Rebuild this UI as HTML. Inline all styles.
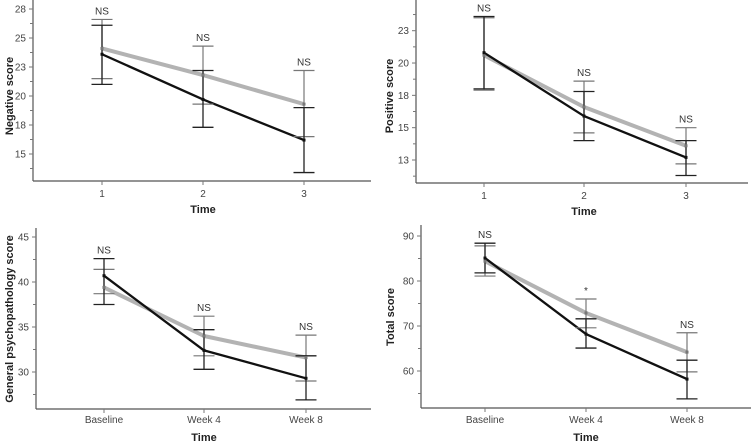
<!DOCTYPE html>
<html><head><meta charset="utf-8"><style>
html,body{margin:0;padding:0;background:#fff;}
svg{display:block;font-family:"Liberation Sans",Arial,sans-serif;}
</style></head><body>
<svg id="chart" width="755" height="445" viewBox="0 0 755 445" xmlns="http://www.w3.org/2000/svg"></svg>
<script>
// Panel A: Negative score
const negCategories = ["1","2","3"];
const negBlack = [23.6, 19.7, 16.2];
const negBlackHi = [26.1, 22.2, 19.0];
const negBlackLo = [21.0, 17.3, 13.4];
const negGray = [24.1, 21.8, 19.3];
const negGrayHi = [26.6, 24.3, 22.2];
const negGrayLo = [21.5, 19.3, 16.5];
const negSig = ["NS","NS","NS"];
const negTicks = [15, 17.5, 20, 22.5, 25, 27.5];
const negTickLabels = ["15","18","20","23","25","28"];
// Panel B: Positive score
const posCategories = ["1","2","3"];
const posBlack = [20.8, 15.9, 12.7];
const posBlackHi = [23.6, 17.8, 14.0];
const posBlackLo = [18.0, 14.0, 11.3];
const posGray = [20.6, 16.6, 13.6];
const posGrayHi = [23.5, 18.6, 15.0];
const posGrayLo = [17.9, 14.6, 12.2];
const posSig = ["NS","NS","NS"];
const posTicks = [12.5, 15, 17.5, 20, 22.5];
const posTickLabels = ["13","15","18","20","23"];
// Panel C: General psychopathology
const genCategories = ["Baseline","Week 4","Week 8"];
const genBlack = [40.7, 32.4, 29.3];
const genBlackHi = [42.6, 34.7, 31.8];
const genBlackLo = [37.5, 30.3, 26.9];
const genGray = [39.4, 34.0, 31.6];
const genGrayHi = [41.4, 36.2, 34.1];
const genGrayLo = [38.7, 31.8, 29.0];
const genSig = ["NS","NS","NS"];
const genTicks = [30, 35, 40, 45];
const genTickLabels = ["30","35","40","45"];
// Panel D: Total score
const totCategories = ["Baseline","Week 4","Week 8"];
const totBlack = [85.1, 68.2, 58.2];
const totBlackHi = [88.4, 71.6, 62.4];
const totBlackLo = [81.8, 65.1, 53.8];
const totGray = [84.4, 72.9, 64.2];
const totGrayHi = [87.8, 76.0, 68.5];
const totGrayLo = [81.1, 69.6, 59.8];
const totSig = ["NS","*","NS"];
const totTicks = [60, 70, 80, 90];
const totTickLabels = ["60","70","80","90"];

const svg = document.getElementById('chart');
const NS = 'http://www.w3.org/2000/svg';
function mk(tag, attrs, parent){
  const e = document.createElementNS(NS, tag);
  for (const k in attrs) e.setAttribute(k, attrs[k]);
  (parent||svg).appendChild(e);
  return e;
}

const panels = [
 {key:'negative', title:'Negative score', cats:negCategories, b:negBlack, bh:negBlackHi, bl:negBlackLo, g:negGray, gh:negGrayHi, gl:negGrayLo, sig:negSig, ticks:negTicks, tl:negTickLabels,
  axX:33, axTop:0, axBot:181, axRight:371, xs:[102,203,304], v0:15, y0:154, ppu:11.6, titleX:9, titleY:96, timeY:213, tickLabY:197},
 {key:'positive', title:'Positive score', cats:posCategories, b:posBlack, bh:posBlackHi, bl:posBlackLo, g:posGray, gh:posGrayHi, gl:posGrayLo, sig:posSig, ticks:posTicks, tl:posTickLabels,
  axX:416, axTop:0, axBot:183, axRight:748, xs:[484,584,686], v0:12.5, y0:160, ppu:12.93, titleX:389, titleY:96, timeY:215, tickLabY:199},
 {key:'general', title:'General psychopathology score', cats:genCategories, b:genBlack, bh:genBlackHi, bl:genBlackLo, g:genGray, gh:genGrayHi, gl:genGrayLo, sig:genSig, ticks:genTicks, tl:genTickLabels,
  axX:36, axTop:228, axBot:409, axRight:371, xs:[104,204,306], v0:30, y0:372, ppu:9, titleX:9, titleY:319, timeY:441, tickLabY:423},
 {key:'total', title:'Total score', cats:totCategories, b:totBlack, bh:totBlackHi, bl:totBlackLo, g:totGray, gh:totGrayHi, gl:totGrayLo, sig:totSig, ticks:totTicks, tl:totTickLabels,
  axX:421, axTop:225, axBot:408, axRight:751, xs:[485,586,687], v0:60, y0:371, ppu:4.5, titleX:390, titleY:317, timeY:441, tickLabY:423},
];

panels.forEach(p => {
  const grp = mk('g', {});
  
  
  const Y = v => p.y0 - (v - p.v0) * p.ppu;
  // axes
  const ya = mk('line', {x1:p.axX, y1:p.axTop, x2:p.axX, y2:p.axBot, stroke:'#555', 'stroke-width':1.2}, grp);
   
  const xa = mk('line', {x1:p.axX, y1:p.axBot, x2:p.axRight, y2:p.axBot, stroke:'#555', 'stroke-width':1.2}, grp);
   
  // y ticks incl minor
  const step = p.ticks[1] - p.ticks[0];
  for (let i = -1; i < p.ticks.length + 1; i++) {
    const v = p.ticks[0] + (i + 0.5) * step;
    const yy = Y(v);
    if (yy > p.axTop + 2 && yy < p.axBot - 2) mk('line', {x1:p.axX-3, y1:yy, x2:p.axX, y2:yy, stroke:'#777', 'stroke-width':1}, grp);
  }
  p.ticks.forEach((v, i) => {
    const yy = Y(v);
    mk('line', {x1:p.axX-4, y1:yy, x2:p.axX, y2:yy, stroke:'#777', 'stroke-width':1}, grp);
    const t = mk('text', {x:p.axX-7, y:yy+3.5, 'text-anchor':'end', 'font-size':10, fill:'#444'}, grp);
    t.textContent = p.tl[i];
     
  });
  // x ticks
  p.cats.forEach((c, i) => {
    mk('line', {x1:p.xs[i], y1:p.axBot, x2:p.xs[i], y2:p.axBot+4, stroke:'#777', 'stroke-width':1}, grp);
    const t = mk('text', {x:p.xs[i], y:p.tickLabY, 'text-anchor':'middle', 'font-size':10, fill:'#444'}, grp);
    t.textContent = c;
     
  });
  // titles
  const xt = mk('text', {x:p.xs[1], y:p.timeY, 'text-anchor':'middle', 'font-size':11, 'font-weight':'bold', fill:'#222'}, grp);
  xt.textContent = 'Time';
   
  const yt = mk('text', {x:0, y:0, 'text-anchor':'middle', 'font-size':11, 'font-weight':'bold', fill:'#222', transform:`translate(${p.titleX+4},${p.titleY}) rotate(-90)`}, grp);
  yt.textContent = p.title;
   
  // series lines
  const gpts = p.g.map((v, i) => p.xs[i] + ',' + Y(v)).join(' ');
  const gl = mk('polyline', {points:gpts, fill:'none', stroke:'#b3b3b3', 'stroke-width':4, 'stroke-linejoin':'round'}, grp);
   
  const bpts = p.b.map((v, i) => p.xs[i] + ',' + Y(v)).join(' ');
  const bl = mk('polyline', {points:bpts, fill:'none', stroke:'#111', 'stroke-width':2.3, 'stroke-linejoin':'round'}, grp);
   
  // error bars
  p.xs.forEach((x, i) => {
    [[p.gh[i], p.gl[i], '#777', 1.2], [p.bh[i], p.bl[i], '#222', 1.3]].forEach(([hi, lo, col, w], k) => {
      const eb = mk('g', {stroke:col, 'stroke-width':w}, grp);
      
      
      mk('line', {x1:x, y1:Y(hi), x2:x, y2:Y(lo)}, eb);
      mk('line', {x1:x-10.5, y1:Y(hi), x2:x+10.5, y2:Y(hi)}, eb);
      mk('line', {x1:x-10.5, y1:Y(lo), x2:x+10.5, y2:Y(lo)}, eb);
    });
    const gm = mk('rect', {x:x-1.5, y:Y(p.g[i])-1.5, width:3, height:3, fill:'#777'}, grp);
     
    const bm = mk('rect', {x:x-1.5, y:Y(p.b[i])-1.5, width:3, height:3, fill:'#111'}, grp);
     
    const top = Math.min(Y(p.gh[i]), Y(p.bh[i]));
    const s = mk('text', {x:x, y:top-5, 'text-anchor':'middle', 'font-size':10, fill:'#333'}, grp);
    s.textContent = p.sig[i];
     
  });
});
</script>
</body></html>
